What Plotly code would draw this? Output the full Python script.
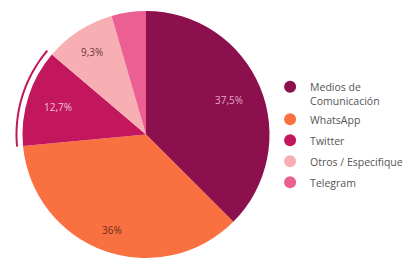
import numpy as np
import plotly.graph_objects as go

categories = ["Medios de Comunicación", "WhatsApp", "Twitter", "Otros / Especifique", "Telegram"]
legend_labels = ["Medios de<br>Comunicación", "WhatsApp", "Twitter", "Otros / Especifique", "Telegram"]
values = [37.5, 36.0, 12.7, 9.3, 4.5]
value_labels = ["37,5%", "36%", "12,7%", "9,3%", ""]
colors = ["#8C0F4E", "#FA7141", "#C2175D", "#F8AFB4", "#EB5F93"]
label_colors = ["#E2A6C6", "#6E2A18", "#F0C2D6", "#6A3A3A", "#FFFFFF"]
label_radius = [0.73, 0.82, 0.75, 0.80, 0.75]   # fraction of pie radius
highlighted = "Twitter"

W, H = 413, 258
cx, cy, R = 146.0, 134.5, 123.5  # pie centre / radius in px (from top-left)

fig = go.Figure()
fig.add_trace(go.Pie(
    labels=categories, values=values,
    textinfo="none",
    sort=False, direction="clockwise", rotation=0,
    marker=dict(colors=colors, line=dict(width=0)),
    domain=dict(x=[(cx - R) / W, (cx + R) / W], y=[0, 2 * R / H]),
    showlegend=False, hoverinfo="label+percent",
))

for lab, col in zip(legend_labels, colors):
    fig.add_trace(go.Scatter(
        x=[None], y=[None], mode="markers", name=lab, legendgroup=lab,
        marker=dict(color=col, size=12, symbol="circle"),
    ))

frac = np.cumsum([0] + values) / sum(values)

# percentage labels placed on each slice's bisector
for k, txt in enumerate(value_labels):
    if not txt:
        continue
    mid = np.pi * (frac[k] + frac[k + 1])
    r = label_radius[k] * R
    fig.add_annotation(
        x=(cx + r * np.sin(mid)) / W, y=1 - (cy - r * np.cos(mid)) / H,
        xref="paper", yref="paper", xanchor="center", yanchor="middle",
        text=txt, showarrow=False,
        font=dict(size=10, color=label_colors[k], family="Open Sans"),
    )

# hover highlight arc around the highlighted slice (angles from data)
i = categories.index(highlighted)
a0, a1 = 2 * np.pi * frac[i], 2 * np.pi * frac[i + 1]
t = np.linspace(a0, a1, 40)
r_in, r_out = 128.5, 130.5
xs_o = cx + r_out * np.sin(t); ys_o = cy - r_out * np.cos(t)
xs_i = cx + r_in * np.sin(t[::-1]); ys_i = cy - r_in * np.cos(t[::-1])
pts = list(zip(np.r_[xs_o, xs_i] / W, 1 - np.r_[ys_o, ys_i] / H))
path = "M " + " L ".join(f"{x:.5f},{y:.5f}" for x, y in pts) + " Z"
fig.add_shape(type="path", path=path, xref="paper", yref="paper",
              fillcolor=colors[i], line=dict(width=0))

fig.update_layout(
    width=W, height=H,
    margin=dict(l=0, r=0, t=0, b=0, autoexpand=False),
    paper_bgcolor="white", plot_bgcolor="white",
    xaxis=dict(visible=False), yaxis=dict(visible=False),
    font=dict(family="Open Sans", color="#555555"),
    legend=dict(
        x=0.654, y=0.715, xanchor="left", yanchor="top",
        font=dict(size=10.5, color="#555555"),
        traceorder="grouped", tracegroupgap=2, valign="top",
        itemwidth=30,
    ),
)
fig.write_html(
    "out.html",
    config={"displayModeBar": False},
    post_script="document.body.style.margin='0';document.body.style.overflow='hidden';",
)
